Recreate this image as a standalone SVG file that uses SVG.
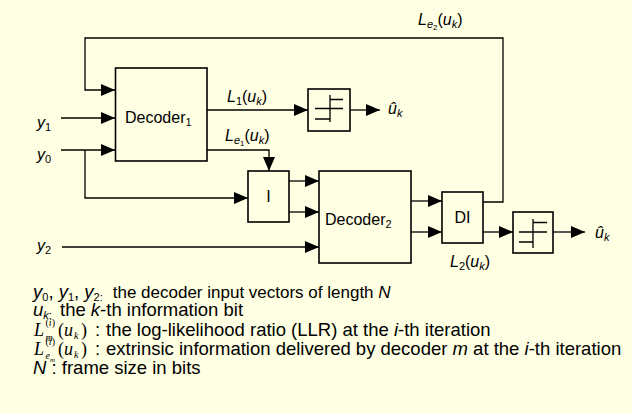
<svg xmlns="http://www.w3.org/2000/svg" width="632" height="414" viewBox="0 0 632 414">
<style>
.t{font-family:"Liberation Sans",Arial,sans-serif;font-size:16px;fill:#000}
.i{font-style:italic}
.lg{font-family:"Liberation Sans",Arial,sans-serif;font-size:18.5px;fill:#000}
.m{font-family:"Liberation Serif","Times New Roman",serif;font-size:18px;fill:#000}
.sm{font-size:10px}
.box{fill:none;stroke:#000;stroke-width:1.6}
.ln{fill:none;stroke:#000;stroke-width:1.3}
.ar{fill:none;stroke:#000;stroke-width:1.3;marker-end:url(#ah)}
</style>
<defs>
<marker id="ah" markerUnits="userSpaceOnUse" markerWidth="14" markerHeight="12" refX="14" refY="6" orient="auto">
<path d="M0,0 L14,6 L0,12 z" fill="#000"/>
</marker>
</defs>
<rect x="0" y="0" width="632" height="414" fill="#FFFFE3"/>

<g id="connectors">
<polyline class="ar" points="483,202 503,202 503,38 85,38 85,90 115,90"/>
<polyline class="ar" points="61,118 115,118"/>
<polyline class="ar" points="61,150 115,150"/>
<polyline class="ar" points="85,150 85,198 248,198"/>
<polyline class="ar" points="207,110 308,110"/>
<polyline class="ar" points="207,150 269,150 269,171"/>
<polyline class="ar" points="289,181 319,181"/>
<polyline class="ar" points="289,212 319,212"/>
<polyline class="ar" points="62,247 319,247"/>
<polyline class="ar" points="411,201 442,201"/>
<polyline class="ar" points="411,232 442,232"/>
<polyline class="ar" points="483,232 513,232"/>
<polyline class="ar" points="350,110 380,110"/>
<polyline class="ar" points="553,232 585,232"/>
</g>

<g id="decoder1">
<rect class="box" x="115.5" y="68" width="91.5" height="93"/>
<text class="t" x="125" y="123">Decoder<tspan font-size="11" dy="3">1</tspan></text>
</g>
<g id="interleaver">
<rect class="box" x="248" y="171" width="41" height="51"/>
<text class="t" x="268.5" y="202" text-anchor="middle">I</text>
</g>
<g id="decoder2">
<rect class="box" x="319" y="171" width="92" height="92"/>
<text class="t" x="325" y="225">Decoder<tspan font-size="11" dy="3">2</tspan></text>
</g>
<g id="deinterleaver">
<rect class="box" x="442" y="192" width="41" height="51"/>
<text class="t" x="462.5" y="223" text-anchor="middle">DI</text>
</g>
<g id="decision1">
<rect class="box" x="308" y="89" width="42" height="42"/>
<path class="ln" d="M330,95 V122 M330,99.5 H343 M315,108.5 H343 M315,119 H330"/>
</g>
<g id="decision2">
<rect class="box" x="513" y="212" width="40" height="41"/>
<path class="ln" d="M533,219 V248 M533,222.5 H547 M519,232 H547 M519,242 H533"/>
</g>

<g id="labels">
<text class="t i" x="37" y="128">y<tspan font-size="11" font-style="normal" dy="3">1</tspan></text>
<text class="t i" x="37" y="160">y<tspan font-size="11" font-style="normal" dy="3">0</tspan></text>
<text class="t i" x="37" y="251">y<tspan font-size="11" font-style="normal" dy="3">2</tspan></text>
<text class="t i" x="227" y="102">L<tspan font-size="11" font-style="normal" dy="3">1</tspan><tspan font-style="normal" dy="-3">(</tspan>u<tspan font-size="11" dy="3">k</tspan><tspan font-style="normal" dy="-3">)</tspan></text>
<text class="t i" x="225" y="141">L<tspan font-size="11" dy="3">e</tspan><tspan font-size="8" font-style="normal" dy="2">1</tspan><tspan font-style="normal" dy="-5">(</tspan>u<tspan font-size="11" dy="3">k</tspan><tspan font-style="normal" dy="-3">)</tspan></text>
<text class="t i" x="418" y="25">L<tspan font-size="11" dy="3">e</tspan><tspan font-size="8" font-style="normal" dy="2">2</tspan><tspan font-style="normal" dy="-5">(</tspan>u<tspan font-size="11" dy="3">k</tspan><tspan font-style="normal" dy="-3">)</tspan></text>
<text class="t i" x="450" y="267">L<tspan font-size="11" font-style="normal" dy="3">2</tspan><tspan font-style="normal" dy="-3">(</tspan>u<tspan font-size="11" dy="3">k</tspan><tspan font-style="normal" dy="-3">)</tspan></text>
<text class="t i" x="388" y="114">û<tspan font-size="11" dy="3">k</tspan></text>
<text class="t i" x="595" y="238">û<tspan font-size="11" dy="3">k</tspan></text>
</g>

<g id="legend">
<text class="lg" x="33" y="298"><tspan class="i">y</tspan><tspan font-size="11" dy="3">0</tspan><tspan dy="-3">, </tspan><tspan class="i">y</tspan><tspan font-size="11" dy="3">1</tspan><tspan dy="-3">, </tspan><tspan class="i">y</tspan><tspan font-size="11" dy="3">2:</tspan><tspan x="108" y="298" font-size="17"> the decoder input vectors of length <tspan class="i">N</tspan></tspan></text>
<text class="lg" x="33" y="316"><tspan class="i">u</tspan><tspan font-size="11" dy="3"><tspan class="i">k</tspan>:</tspan><tspan x="60" y="316">the <tspan class="i">k</tspan>-th information bit</tspan></text>

<text class="m" x="34" y="336"><tspan class="i">L</tspan><tspan class="sm" x="45.5" y="326">(<tspan class="i">i</tspan>)</tspan><tspan class="sm i" x="45.5" y="341">m</tspan><tspan x="58" y="336">(</tspan><tspan class="i">u</tspan><tspan class="sm i" x="74" y="339">k</tspan><tspan x="81" y="336">)</tspan><tspan class="lg" x="95" y="336">: </tspan><tspan class="lg" x="106" y="336">the log-likelihood ratio (LLR) at the <tspan class="i">i</tspan>-th iteration</tspan></text>

<text class="m" x="34" y="355"><tspan class="i">L</tspan><tspan class="sm" x="45.5" y="345">(<tspan class="i">i</tspan>)</tspan><tspan class="sm i" x="45.5" y="359">e</tspan><tspan class="i" font-size="7" x="50" y="362">m</tspan><tspan x="58" y="355">(</tspan><tspan class="i">u</tspan><tspan class="sm i" x="74" y="358">k</tspan><tspan x="81" y="355">)</tspan><tspan class="lg" x="95" y="355">: </tspan><tspan class="lg" x="106" y="355">extrinsic information delivered by decoder <tspan class="i">m</tspan> at the <tspan class="i">i</tspan>-th iteration</tspan></text>

<text class="lg" x="33" y="374"><tspan class="i">N</tspan> : frame size in bits</text>
</g>
</svg>
